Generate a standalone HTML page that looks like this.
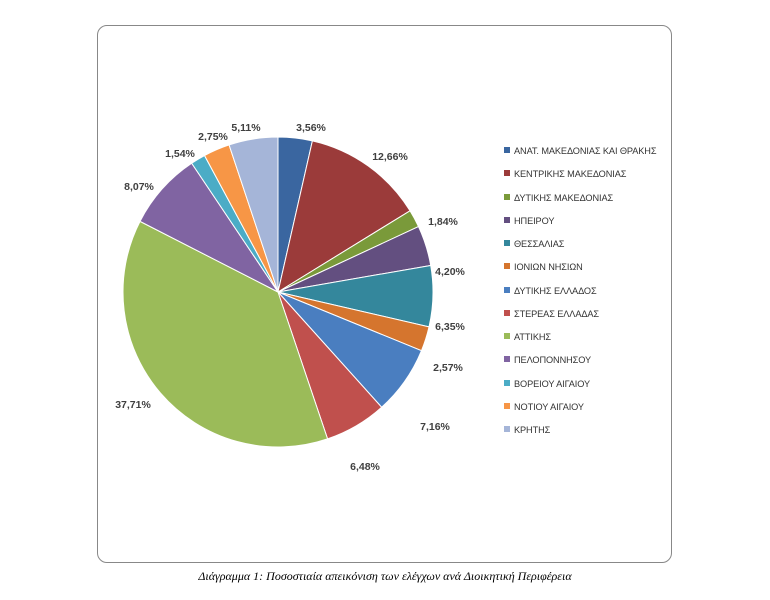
<!DOCTYPE html>
<html><head><meta charset="utf-8"><style>
body{margin:0;background:#fff;width:770px;height:600px;position:relative;font-family:"Liberation Sans",sans-serif}
.frame{position:absolute;left:97px;top:25px;width:575px;height:538px;border:1px solid #888;border-radius:10px;box-sizing:border-box}
.lg{position:absolute;left:504px;font-size:9.2px;letter-spacing:-0.1px;color:#333;white-space:nowrap}
.lg i{display:inline-block;width:6px;height:6px;margin-right:4px;vertical-align:1px}
.cap{position:absolute;top:569px;left:0;width:770px;text-align:center;font-family:"Liberation Serif",serif;font-style:italic;font-size:12px;color:#000}
</style></head><body>
<div class="frame"></div>
<svg id="s" width="770" height="600" style="position:absolute;left:0;top:0"></svg>
<div class="cap">Διάγραμμα 1: Ποσοστιαία απεικόνιση των ελέγχων ανά Διοικητική Περιφέρεια</div>
<script>
var v=[3.56,12.66,1.84,4.20,6.35,2.57,7.16,6.48,37.71,8.07,1.54,2.75,5.11];
var c=["#3A66A0","#9B3B3A","#7A9A3A","#634F80","#34879C","#D5752E","#4A7EC0","#C0504D","#9BBB59","#8064A2","#4BACC6","#F79646","#A5B5D8"];
var n=["ΑΝΑΤ. ΜΑΚΕΔΟΝΙΑΣ ΚΑΙ ΘΡΑΚΗΣ","ΚΕΝΤΡΙΚΗΣ ΜΑΚΕΔΟΝΙΑΣ","ΔΥΤΙΚΗΣ ΜΑΚΕΔΟΝΙΑΣ","ΗΠΕΙΡΟΥ","ΘΕΣΣΑΛΙΑΣ","ΙΟΝΙΩΝ ΝΗΣΙΩΝ","ΔΥΤΙΚΗΣ ΕΛΛΑΔΟΣ","ΣΤΕΡΕΑΣ ΕΛΛΑΔΑΣ","ΑΤΤΙΚΗΣ","ΠΕΛΟΠΟΝΝΗΣΟΥ","ΒΟΡΕΙΟΥ ΑΙΓΑΙΟΥ","ΝΟΤΙΟΥ ΑΙΓΑΙΟΥ","ΚΡΗΤΗΣ"];
var L=[[311,127],[390,156],[443,221],[450,271],[450,326],[448,367],[435,426],[365,466],[133,404],[139,186],[180,153],[213,136],[246,127]];
var cx=278,cy=292,r=155,tot=v.reduce(function(a,b){return a+b}),a=0,h="";
for(var i=0;i<v.length;i++){var a0=a;a+=v[i]/tot*2*Math.PI;
var x0=cx+r*Math.sin(a0),y0=cy-r*Math.cos(a0),x1=cx+r*Math.sin(a),y1=cy-r*Math.cos(a);
h+='<path d="M'+cx+','+cy+'L'+x0+','+y0+'A'+r+','+r+' 0 '+(a-a0>Math.PI?1:0)+' 1 '+x1+','+y1+'Z" fill="'+c[i]+'" stroke="#fff" stroke-width="1"/>';
h+='<text x="'+L[i][0]+'" y="'+(L[i][1]+4)+'" text-anchor="middle" font-family="Liberation Sans" font-weight="bold" font-size="10.5" fill="#404040">'+v[i].toFixed(2).replace(".",",")+'%</text>';
var d=document.createElement("div");d.className="lg";d.style.top=(146+i*23.25)+"px";d.innerHTML='<i style="background:'+c[i]+'"></i>'+n[i];document.body.appendChild(d);}
document.getElementById("s").innerHTML=h;
</script>
</body></html>
